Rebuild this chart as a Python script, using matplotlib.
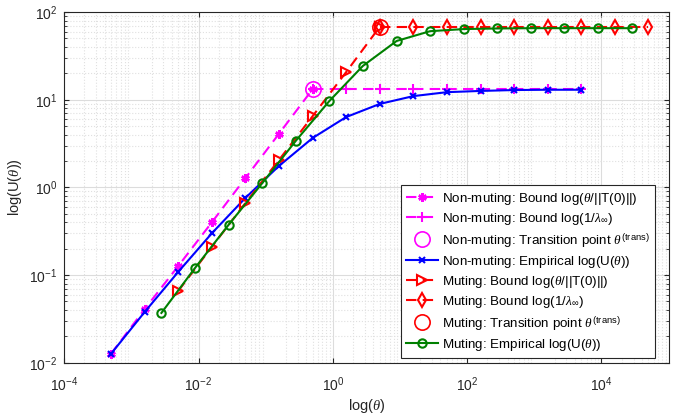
import matplotlib
matplotlib.use("Agg")
import matplotlib.pyplot as plt

plt.rcParams['font.family'] = ['Liberation Sans', 'DejaVu Sans']
plt.rcParams['mathtext.fontset'] = 'custom'
plt.rcParams['mathtext.rm'] = 'Liberation Sans'
plt.rcParams['mathtext.it'] = 'Liberation Serif:italic'
plt.rcParams['mathtext.cal'] = 'Liberation Sans'

# Non-muting data
nm_theta = [5e-4, 1.58e-3, 5e-3, 1.58e-2, 5e-2, 0.158, 0.5, 1.58, 5, 15.8, 50, 158, 500, 1580, 5000]
nm_bound_theta = [0.0127, 0.041, 0.127, 0.40, 1.28, 4.1, 13.2]
nm_bound_lam = [13.2, 13.2, 13.2, 13.2, 13.2, 13.2, 13.2, 13.2, 13.2]
nm_trans = (0.5, 13.2)
nm_emp = [0.0127, 0.038, 0.109, 0.30, 0.76, 1.76, 3.66, 6.35, 8.96, 11.0, 12.2, 12.6, 12.9, 13.0, 13.0]

# Muting data
m_theta_bound = [5e-3, 1.58e-2, 5e-2, 0.158, 0.5, 1.58, 5]
m_bound_theta = [0.066, 0.21, 0.665, 2.06, 6.5, 20.7, 68]
m_theta_lam = [5, 15.8, 50, 158, 500, 1580, 5000, 15800, 50000]
m_bound_lam = [68, 68, 68, 68, 68, 68, 68, 68, 68]
m_trans = (5, 68)
m_theta_emp = [2.8e-3, 8.9e-3, 2.8e-2, 8.9e-2, 0.28, 0.89, 2.8, 8.9, 28, 89, 280, 890, 2800, 8900, 28000]
m_emp = [0.037, 0.121, 0.374, 1.12, 3.39, 9.7, 24.3, 46.8, 60.5, 64, 65, 65.5, 65.5, 65.5, 65.5]

fig = plt.figure(figsize=(6.83, 4.16), dpi=100)
ax = fig.add_axes([0.094, 0.128, 0.885, 0.843])

dash = (5, 3)
asterisk = (6, 2, 0)
ax.plot(nm_theta[:7], nm_bound_theta, color='#ff00ff', ls='--', dashes=dash, lw=1.5,
        marker=asterisk, ms=6, mew=1.8, label=r'Non-muting: Bound log($\theta$/||T(0)||)')
ax.plot(nm_theta[6:], nm_bound_lam, color='#ff00ff', ls='--', dashes=dash, lw=1.5,
        marker='+', ms=7, mew=1.5, label=r'Non-muting: Bound log(1/$\lambda_\infty$)')
ax.plot([nm_trans[0]], [nm_trans[1]], ls='none', marker='o', ms=11, mfc='none',
        mec='#ff00ff', mew=1.2, label=r'Non-muting: Transition point $\theta^{\mathrm{(trans)}}$')
ax.plot(nm_theta, nm_emp, color='#0000ff', lw=1.5, marker='x', ms=5, mew=1.5,
        label=r'Non-muting: Empirical log(U($\theta$))')
ax.plot(m_theta_bound, m_bound_theta, color='#ff0000', ls='--', dashes=dash, lw=1.5,
        marker='>', ms=7, mfc='none', mew=1.5, label=r'Muting: Bound log($\theta$/||T(0)||)')
ax.plot(m_theta_lam, m_bound_lam, color='#ff0000', ls='--', dashes=dash, lw=1.5,
        marker='d', ms=7, mfc='none', mew=1.5, label=r'Muting: Bound log(1/$\lambda_\infty$)')
ax.plot([m_trans[0]], [m_trans[1]], ls='none', marker='o', ms=11, mfc='none',
        mec='#ff0000', mew=1.2, label=r'Muting: Transition point $\theta^{\mathrm{(trans)}}$')
ax.plot(m_theta_emp, m_emp, color='#008000', lw=1.5, marker='o', ms=6, mfc='none', mew=1.5,
        label=r'Muting: Empirical log(U($\theta$))')

ax.set_xscale('log')
ax.set_yscale('log')
ax.set_xlim(1e-4, 1e5)
ax.set_ylim(1e-2, 1e2)
ax.set_xticks([1e-4, 1e-2, 1e0, 1e2, 1e4])
ax.grid(True, which='major', color='#dcdcdc', lw=0.8)
ax.grid(True, which='minor', color='#e0e0e0', ls=':', lw=0.8)
ax.set_axisbelow(True)
ax.tick_params(which='both', direction='in', top=True, right=True, labelsize=10, colors='#262626')
ax.tick_params(axis='x', which='minor', top=False, bottom=False)
ax.tick_params(axis='x', which='major', pad=9)
ax.tick_params(axis='y', which='major', pad=5)
for s in ax.spines.values():
    s.set_color('#262626')
ax.set_xlabel(r'log($\theta$)', fontsize=10.5, color='#262626', labelpad=2)
ax.set_ylabel(r'log(U($\theta$))', fontsize=10.5, color='#262626')

leg = ax.legend(loc='lower right', bbox_to_anchor=(0.977, 0.014), borderaxespad=0,
                fontsize=9.6, handlelength=2.4, handletextpad=0.25,
                labelspacing=0.3, fancybox=False, framealpha=1,
                edgecolor='#262626', borderpad=0.4)
leg.get_frame().set_linewidth(0.8)

fig.savefig('out.png', dpi=100)
